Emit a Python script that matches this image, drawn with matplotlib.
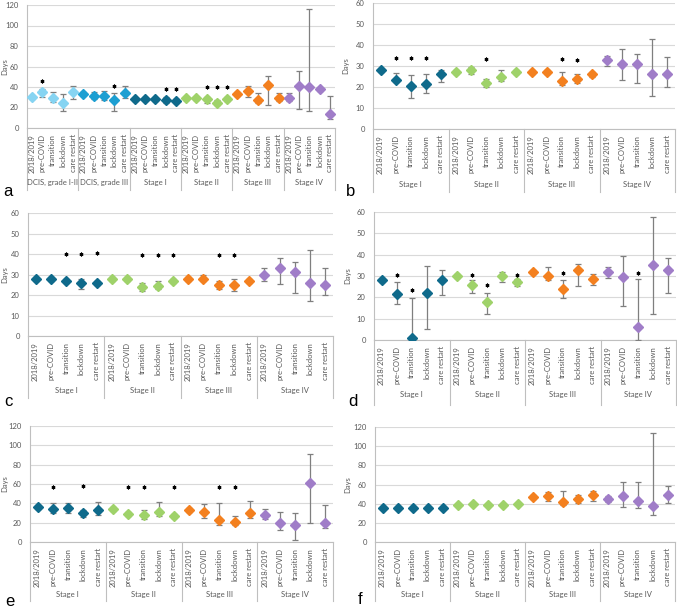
import numpy as np
import matplotlib
matplotlib.use("Agg")
import matplotlib.pyplot as plt
from matplotlib.transforms import blended_transform_factory

plt.rcParams['font.family'] = ['Lato', 'DejaVu Sans']

periods = ["2018/2019", "pre-COVID", "transition", "lockdown", "care restart"]
stages = ["Stage I", "Stage II", "Stage III", "Stage IV"]
groups_a = ["DCIS, grade I-II", "DCIS, grade III"] + stages

col_dcis12 = "#86d4f2"
col_dcis3 = "#1d9fd2"
col_stage = ["#0f6a8b", "#9fd26a", "#f3801f", "#a07dc8"]

# panel a
a_val = [30, 35.5, 29, 24, 35, 33, 31, 31, 27, 34, 28, 28.5, 28, 27, 26,
         29, 29, 28, 24, 28, 33, 36, 27, 42, 29, 29, 41, 40, 38, 14]
a_lo = [28.5, 30, 25.5, 17, 28.5, 31.5, 28.5, 27, 17, 29, 26.5, 27, 26.5, 24, 24,
        27.5, 27.5, 24.5, 22, 26, 31, 30, 24, 22, 26.5, 26, 18.5, 17, 36.5, 9]
a_hi = [31.5, 38, 35, 33, 41, 35, 35, 36, 34, 41, 29.5, 30, 29.5, 30, 28,
        30.5, 30.5, 30, 27, 30, 35, 41, 34, 51, 34, 34, 56, 116, 39.5, 31]
a_star = {1: 46, 8: 41, 13: 38, 14: 38, 17: 40, 18: 40, 19: 40}

# panel b
b_val = [28, 23.5, 20.5, 21.5, 26, 27, 28, 22, 25, 27,
         27, 27, 23, 24, 26, 33, 31, 31, 26, 26]
b_lo = [27, 22.5, 15, 17, 22.5, 26, 26, 20, 23, 26,
        26, 26, 21, 22, 25, 30, 23.5, 22, 15.5, 20]
b_hi = [29, 26.7, 25.7, 26, 28, 28, 29.5, 24, 28, 28,
        28, 28, 27, 26, 27, 35, 38, 35.5, 43, 34.5]
b_star = {1: 34, 2: 34, 3: 34, 7: 33.5, 12: 33.5, 13: 33}

# panel c
c_val = [28, 28, 27, 26, 26, 28, 28, 24, 24.5, 27,
         28, 28, 25, 25, 27, 30, 33, 31, 26, 25]
c_lo = [27, 27, 26, 23, 25, 27, 27, 22, 23, 26,
        27, 27, 23, 22, 26, 27, 25.5, 21, 17, 20]
c_hi = [29, 29, 28, 28, 27, 29, 29, 26, 27, 28,
        29, 30, 27, 28, 28, 33, 38, 36, 42, 33]
c_star = {2: 40, 3: 40, 4: 40.5, 7: 39.5, 8: 39.5, 9: 39.5, 12: 39.5, 13: 39.5}

# panel d
d_val = [28, 21.5, 1, 22, 28, 30, 26, 18, 30, 27,
         32, 30, 24, 33, 28.5, 32, 29.5, 6, 35, 33]
d_lo = [27, 17, 0, 5, 21, 29, 22, 12, 27, 25.5,
        31, 28, 19.5, 25.5, 26, 29, 16, 0, 12, 22]
d_hi = [29, 27.3, 19.5, 34.5, 33, 31, 28, 22, 32, 28.5,
        33, 34, 28, 35.5, 31, 34, 39.5, 28.5, 57.5, 38.5]
d_star = {1: 30.6, 2: 23.5, 6: 30.5, 7: 26, 9: 30.3, 12: 31.5, 17: 31.3}

# panel e
e_val = [36, 34, 35, 30, 33, 34, 29, 28, 31, 27,
         33, 31, 23, 21, 29.5, 28, 20, 18, 61.5, 19.5]
e_lo = [34, 30, 30, 26, 28, 32, 27, 23.5, 27, 25,
        31, 25, 17.5, 18, 25, 24, 12, 2, 19.5, 14]
e_hi = [38, 40, 40, 33, 41, 36, 31, 33, 41, 29,
        35, 39, 40, 26.5, 42, 34, 31, 30, 91, 38]
e_star = {1: 57, 3: 57.5, 6: 57, 7: 57, 9: 57, 12: 56.5, 13: 57}

# panel f
f_val = [35, 36, 36, 36, 35, 39, 40, 39, 39, 40,
         47, 48, 42, 44.5, 49, 45, 48, 43, 38, 49]
f_lo = [34, 35, 35, 35, 34, 38, 39, 38, 38, 39,
        45, 43, 39, 41, 43, 42, 37, 35, 28, 40.5]
f_hi = [36, 37, 37, 37, 36, 40, 41, 40, 40, 41,
        49, 52, 53, 49.5, 53, 48, 63, 63, 113.5, 58]
f_star = {}

W, H = 677, 612
fig = plt.figure(figsize=(W / 100, H / 100), dpi=100)

TXT = "#595959"
LINE = "#bfbfbf"
GRID = "#d9d9d9"
NARROW = ['Liberation Sans Narrow', 'Lato', 'DejaVu Sans']


def panel(box, vals, lo, hi, stars, groups, colors, ymax, ystep,
          letter, letter_xy, days_x, group_y, sep_bottom):
    x0, y0, x1, y1 = box
    hpx = y1 - y0
    ax = fig.add_axes([x0 / W, 1 - y1 / H, (x1 - x0) / W, hpx / H])
    n = len(vals)
    vals = np.array(vals)
    lo = np.array(lo)
    hi = np.array(hi)
    for g in range(len(groups)):
        s = slice(g * 5, g * 5 + 5)
        xs = np.arange(g * 5, g * 5 + 5)
        ax.errorbar(xs, vals[s], yerr=[vals[s] - lo[s], hi[s] - vals[s]],
                    fmt='D', color=colors[g], ecolor='#7f7f7f', elinewidth=0.9,
                    capsize=2, capthick=0.9, markersize=5.2, zorder=3)
    for i, yv in stars.items():
        ax.plot(i, yv, marker=(6, 2, 0), color='black', markersize=2.7,
                markeredgewidth=0.8, zorder=4)
    ax.set_xlim(-0.5, n - 0.5)
    ax.set_ylim(0, ymax)
    ax.set_yticks(np.arange(0, ymax + 1, ystep))
    ax.set_xticks([])
    ax.grid(axis='y', color=GRID, lw=0.8)
    ax.set_axisbelow(True)
    for sp in ['top', 'right']:
        ax.spines[sp].set_visible(False)
    ax.spines['left'].set_color(LINE)
    ax.spines['bottom'].set_color(LINE)
    ax.spines['left'].set_linewidth(0.8)
    ax.spines['bottom'].set_linewidth(0.8)
    ax.tick_params(axis='y', length=0, labelsize=5.5, labelcolor=TXT, pad=6)
    ax.set_ylabel("Days", fontsize=5.5, color=TXT)
    ax.yaxis.set_label_coords((days_x - x0) / (x1 - x0), 0.5)

    tr = blended_transform_factory(ax.transData, ax.transAxes)
    for i in range(n):
        ax.text(i, -6 / hpx, periods[i % 5], rotation=90, ha='center', va='top',
                fontsize=5.5, color=TXT, transform=tr, family=NARROW)
    yb = (y1 - sep_bottom) / hpx
    for g in range(len(groups) + 1):
        ax.plot([g * 5 - 0.5, g * 5 - 0.5], [0, yb], color=LINE, lw=0.8,
                transform=tr, clip_on=False)
    for g, name in enumerate(groups):
        ax.text(g * 5 + 2, (y1 - group_y) / hpx, name, ha='center', va='center',
                fontsize=5.5, color=TXT, transform=tr)
    fig.text(letter_xy[0] / W, 1 - letter_xy[1] / H, letter, fontsize=12,
             family='Liberation Sans', ha='center', va='center')
    return ax


panel((27, 5, 335, 128), a_val, a_lo, a_hi, a_star, groups_a,
      [col_dcis12, col_dcis3] + col_stage, 120, 20, "a", (8, 192), 8, 182, 190)
panel((373, 3, 675, 129), b_val, b_lo, b_hi, b_star, stages, col_stage,
      60, 10, "b", (351, 192), 349, 185, 192)
panel((28, 213, 333, 336), c_val, c_lo, c_hi, c_star, stages, col_stage,
      60, 10, "c", (8, 401), 8, 390, 398)
panel((374, 212, 676, 340), d_val, d_lo, d_hi, d_star, stages, col_stage,
      60, 10, "d", (353, 401), 351, 395, 405)
panel((30, 426, 333, 542), e_val, e_lo, e_hi, e_star, stages, col_stage,
      120, 20, "e", (10, 601), 8, 595, 601)
panel((375, 427, 675, 542), f_val, f_lo, f_hi, f_star, stages, col_stage,
      120, 20, "f", (360, 600), 351, 595, 601)

fig.savefig("out.png", dpi=100)
